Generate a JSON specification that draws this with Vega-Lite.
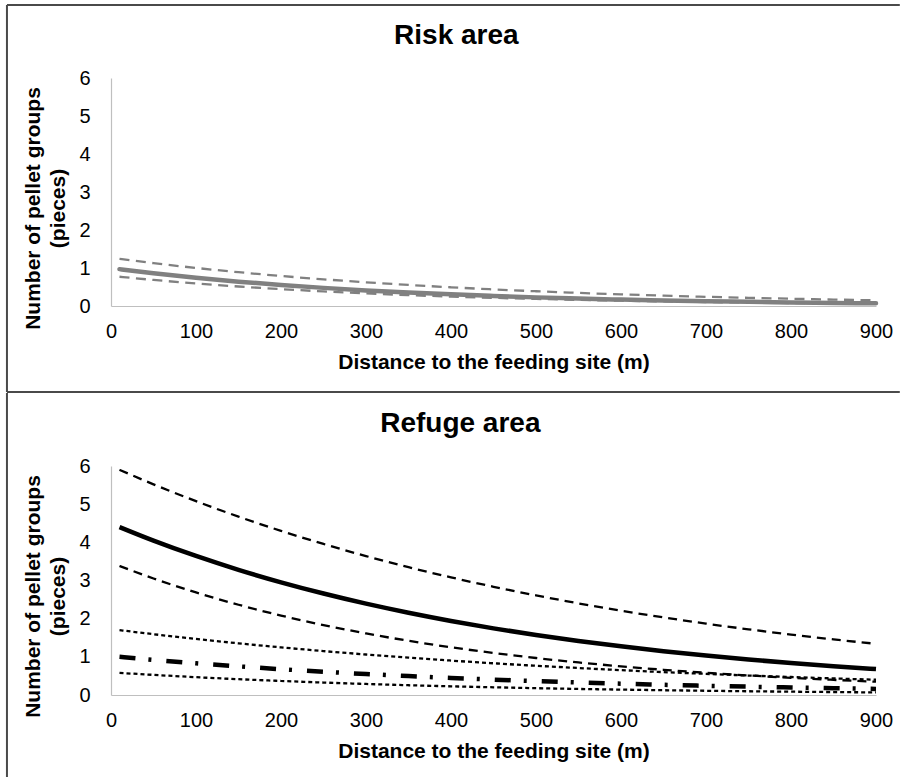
{
  "$schema": "https://vega.github.io/schema/vega-lite/v6.json",
  "padding": {"left": 5, "top": 4, "right": 0, "bottom": 0},
  "background": "white",
  "spacing": -2,
  "config": {
    "view": {"stroke": null},
    "font": "Liberation Sans",
    "axis": {
      "domainColor": "#bfbfbf",
      "domainWidth": 1.2,
      "ticks": false,
      "grid": false,
      "labelFlush": false,
      "labelFont": "Liberation Sans",
      "labelFontSize": 20,
      "labelColor": "black",
      "titleFont": "Liberation Sans",
      "titleFontSize": 21,
      "titleFontWeight": "bold",
      "titleColor": "black"
    },
    "axisX": {"tickCount": 9, "labelPadding": 15, "titlePadding": 10},
    "axisY": {"tickCount": 6, "labelPadding": 21, "titleLineHeight": 25, "titlePadding": 10, "titleY": 130},
    "title": {"font": "Liberation Sans", "fontSize": 28, "fontWeight": "bold", "color": "black", "frame": "bounds", "baseline": "alphabetic"}
  },
  "datasets": {
    "risk": [
      {"x": 10, "mean": 0.97, "lo": 0.77, "hi": 1.24},
      {"x": 50, "mean": 0.862, "lo": 0.686, "hi": 1.128},
      {"x": 100, "mean": 0.743, "lo": 0.593, "hi": 1.002},
      {"x": 150, "mean": 0.641, "lo": 0.513, "hi": 0.89},
      {"x": 200, "mean": 0.553, "lo": 0.444, "hi": 0.79},
      {"x": 250, "mean": 0.477, "lo": 0.384, "hi": 0.702},
      {"x": 300, "mean": 0.411, "lo": 0.332, "hi": 0.624},
      {"x": 350, "mean": 0.355, "lo": 0.287, "hi": 0.554},
      {"x": 400, "mean": 0.306, "lo": 0.248, "hi": 0.492},
      {"x": 450, "mean": 0.264, "lo": 0.215, "hi": 0.437},
      {"x": 500, "mean": 0.227, "lo": 0.186, "hi": 0.388},
      {"x": 550, "mean": 0.196, "lo": 0.161, "hi": 0.345},
      {"x": 600, "mean": 0.169, "lo": 0.139, "hi": 0.306},
      {"x": 650, "mean": 0.146, "lo": 0.12, "hi": 0.272},
      {"x": 700, "mean": 0.126, "lo": 0.104, "hi": 0.242},
      {"x": 750, "mean": 0.109, "lo": 0.09, "hi": 0.215},
      {"x": 800, "mean": 0.094, "lo": 0.078, "hi": 0.191},
      {"x": 850, "mean": 0.081, "lo": 0.067, "hi": 0.169},
      {"x": 900, "mean": 0.07, "lo": 0.058, "hi": 0.15}
    ],
    "refuge": [
      {"x": 10, "m1": 4.4, "lo1": 3.38, "hi1": 5.9, "m2": 1.0, "lo2": 0.58, "hi2": 1.7},
      {"x": 50, "m1": 4.045, "lo1": 3.052, "hi1": 5.52, "m2": 0.921, "lo2": 0.527, "hi2": 1.593},
      {"x": 100, "m1": 3.642, "lo1": 2.687, "hi1": 5.079, "m2": 0.831, "lo2": 0.467, "hi2": 1.469},
      {"x": 150, "m1": 3.279, "lo1": 2.365, "hi1": 4.673, "m2": 0.75, "lo2": 0.414, "hi2": 1.354},
      {"x": 200, "m1": 2.952, "lo1": 2.082, "hi1": 4.3, "m2": 0.676, "lo2": 0.368, "hi2": 1.248},
      {"x": 250, "m1": 2.658, "lo1": 1.833, "hi1": 3.957, "m2": 0.61, "lo2": 0.326, "hi2": 1.151},
      {"x": 300, "m1": 2.393, "lo1": 1.613, "hi1": 3.64, "m2": 0.55, "lo2": 0.289, "hi2": 1.061},
      {"x": 350, "m1": 2.155, "lo1": 1.42, "hi1": 3.349, "m2": 0.496, "lo2": 0.256, "hi2": 0.978},
      {"x": 400, "m1": 1.94, "lo1": 1.25, "hi1": 3.082, "m2": 0.448, "lo2": 0.227, "hi2": 0.902},
      {"x": 450, "m1": 1.746, "lo1": 1.101, "hi1": 2.836, "m2": 0.404, "lo2": 0.202, "hi2": 0.831},
      {"x": 500, "m1": 1.572, "lo1": 0.969, "hi1": 2.61, "m2": 0.364, "lo2": 0.179, "hi2": 0.766},
      {"x": 550, "m1": 1.416, "lo1": 0.853, "hi1": 2.401, "m2": 0.329, "lo2": 0.159, "hi2": 0.707},
      {"x": 600, "m1": 1.275, "lo1": 0.751, "hi1": 2.209, "m2": 0.297, "lo2": 0.141, "hi2": 0.651},
      {"x": 650, "m1": 1.147, "lo1": 0.661, "hi1": 2.033, "m2": 0.268, "lo2": 0.125, "hi2": 0.6},
      {"x": 700, "m1": 1.033, "lo1": 0.582, "hi1": 1.87, "m2": 0.241, "lo2": 0.111, "hi2": 0.554},
      {"x": 750, "m1": 0.93, "lo1": 0.512, "hi1": 1.721, "m2": 0.218, "lo2": 0.098, "hi2": 0.51},
      {"x": 800, "m1": 0.837, "lo1": 0.451, "hi1": 1.584, "m2": 0.196, "lo2": 0.087, "hi2": 0.471},
      {"x": 850, "m1": 0.754, "lo1": 0.397, "hi1": 1.457, "m2": 0.177, "lo2": 0.077, "hi2": 0.434},
      {"x": 900, "m1": 0.679, "lo1": 0.349, "hi1": 1.341, "m2": 0.16, "lo2": 0.068, "hi2": 0.4}
    ]
  },
  "vconcat": [
    {
      "width": 765,
      "height": 228,
      "title": {"text": "Risk area", "offset": -46, "dx": 3},
      "layer": [
        {"data": {"name": "risk"}, "mark": {"type": "line", "color": "#808080", "strokeWidth": 2.3, "strokeDash": [10, 6.5], "interpolate": "monotone"},
         "encoding": {
           "x": {"field": "x", "type": "quantitative", "scale": {"domain": [0, 900], "nice": false}, "title": "Distance to the feeding site (m)"},
           "y": {"field": "hi", "type": "quantitative", "scale": {"domain": [0, 6], "nice": false}, "title": ["Number of pellet groups", "(pieces)"]}}},
        {"data": {"name": "risk"}, "mark": {"type": "line", "color": "#808080", "strokeWidth": 2.3, "strokeDash": [10, 6.5], "interpolate": "monotone"},
         "encoding": {
           "x": {"field": "x", "type": "quantitative", "scale": {"domain": [0, 900], "nice": false}, "title": "Distance to the feeding site (m)"},
           "y": {"field": "lo", "type": "quantitative", "scale": {"domain": [0, 6], "nice": false}, "title": ["Number of pellet groups", "(pieces)"]}}},
        {"data": {"name": "risk"}, "mark": {"type": "line", "color": "#808080", "strokeWidth": 4.5, "strokeCap": "round", "interpolate": "monotone"},
         "encoding": {
           "x": {"field": "x", "type": "quantitative", "scale": {"domain": [0, 900], "nice": false}, "title": "Distance to the feeding site (m)"},
           "y": {"field": "mean", "type": "quantitative", "scale": {"domain": [0, 6], "nice": false}, "title": ["Number of pellet groups", "(pieces)"]}}},
        {"data": {"values": [{}]}, "mark": {"type": "rule", "color": "#4a4a4a", "strokeWidth": 2},
         "encoding": {"x": {"datum": -122.4, "type": "quantitative"}, "y": {"datum": 7.92, "type": "quantitative"}, "y2": {"datum": -2.263}}},
        {"data": {"values": [{}]}, "mark": {"type": "rule", "color": "#4a4a4a", "strokeWidth": 2},
         "encoding": {"x": {"datum": -122.4, "type": "quantitative"}, "x2": {"datum": 928}, "y": {"datum": 7.92, "type": "quantitative"}}},
        {"data": {"values": [{}]}, "mark": {"type": "rule", "color": "#4a4a4a", "strokeWidth": 2},
         "encoding": {"x": {"datum": -122.4, "type": "quantitative"}, "x2": {"datum": 928}, "y": {"datum": -2.263, "type": "quantitative"}}}
      ]
    },
    {
      "width": 765,
      "height": 229,
      "title": {"text": "Refuge area", "offset": -46, "dx": 11},
      "layer": [
        {"data": {"name": "refuge"}, "mark": {"type": "line", "color": "black", "strokeWidth": 2.3, "strokeDash": [9, 6], "interpolate": "monotone"},
         "encoding": {
           "x": {"field": "x", "type": "quantitative", "scale": {"domain": [0, 900], "nice": false}, "title": "Distance to the feeding site (m)"},
           "y": {"field": "hi1", "type": "quantitative", "scale": {"domain": [0, 6], "nice": false}, "title": ["Number of pellet groups", "(pieces)"]}}},
        {"data": {"name": "refuge"}, "mark": {"type": "line", "color": "black", "strokeWidth": 2.3, "strokeDash": [9, 6], "interpolate": "monotone"},
         "encoding": {
           "x": {"field": "x", "type": "quantitative", "scale": {"domain": [0, 900], "nice": false}, "title": "Distance to the feeding site (m)"},
           "y": {"field": "lo1", "type": "quantitative", "scale": {"domain": [0, 6], "nice": false}, "title": ["Number of pellet groups", "(pieces)"]}}},
        {"data": {"name": "refuge"}, "mark": {"type": "line", "color": "black", "strokeWidth": 2.3, "strokeDash": [4, 3], "interpolate": "monotone"},
         "encoding": {
           "x": {"field": "x", "type": "quantitative", "scale": {"domain": [0, 900], "nice": false}, "title": "Distance to the feeding site (m)"},
           "y": {"field": "hi2", "type": "quantitative", "scale": {"domain": [0, 6], "nice": false}, "title": ["Number of pellet groups", "(pieces)"]}}},
        {"data": {"name": "refuge"}, "mark": {"type": "line", "color": "black", "strokeWidth": 2.3, "strokeDash": [4, 3], "interpolate": "monotone"},
         "encoding": {
           "x": {"field": "x", "type": "quantitative", "scale": {"domain": [0, 900], "nice": false}, "title": "Distance to the feeding site (m)"},
           "y": {"field": "lo2", "type": "quantitative", "scale": {"domain": [0, 6], "nice": false}, "title": ["Number of pellet groups", "(pieces)"]}}},
        {"data": {"name": "refuge"}, "mark": {"type": "line", "color": "black", "strokeWidth": 4.5, "strokeDash": [16, 13, 3, 15], "interpolate": "monotone"},
         "encoding": {
           "x": {"field": "x", "type": "quantitative", "scale": {"domain": [0, 900], "nice": false}, "title": "Distance to the feeding site (m)"},
           "y": {"field": "m2", "type": "quantitative", "scale": {"domain": [0, 6], "nice": false}, "title": ["Number of pellet groups", "(pieces)"]}}},
        {"data": {"name": "refuge"}, "mark": {"type": "line", "color": "black", "strokeWidth": 4.5, "interpolate": "monotone"},
         "encoding": {
           "x": {"field": "x", "type": "quantitative", "scale": {"domain": [0, 900], "nice": false}, "title": "Distance to the feeding site (m)"},
           "y": {"field": "m1", "type": "quantitative", "scale": {"domain": [0, 6], "nice": false}, "title": ["Number of pellet groups", "(pieces)"]}}},
        {"data": {"values": [{}]}, "mark": {"type": "rule", "color": "#4a4a4a", "strokeWidth": 2},
         "encoding": {"x": {"datum": -122.4, "type": "quantitative"}, "y": {"datum": 7.913, "type": "quantitative"}, "y2": {"datum": -2.17}}}
      ]
    }
  ]
}
